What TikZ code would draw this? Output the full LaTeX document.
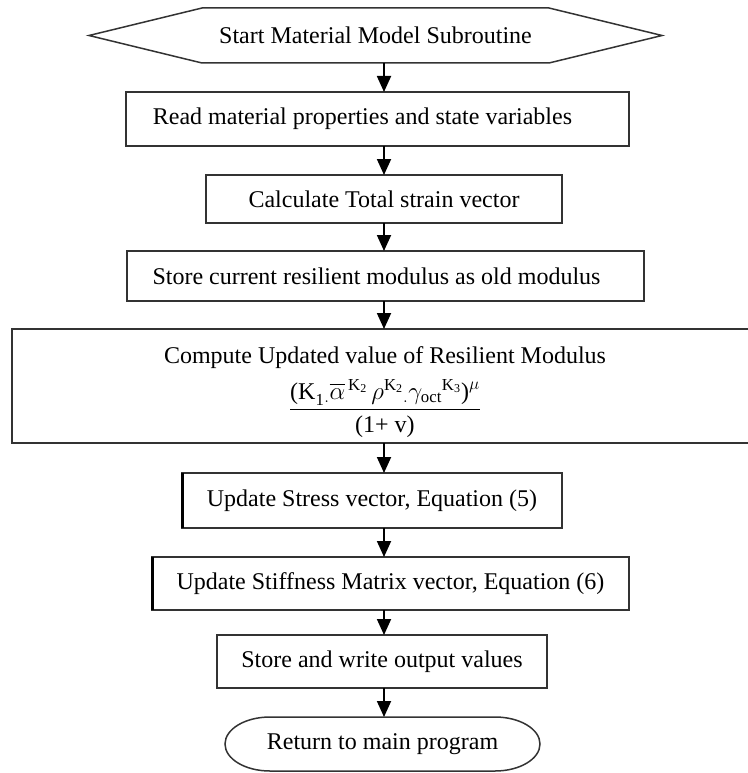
\documentclass[tikz,border=0pt]{standalone}
\usepackage{amsmath}
\usepackage{fontspec}
\setmainfont{Liberation Serif}
\usetikzlibrary{arrows.meta}

\begin{document}
\begin{tikzpicture}[x=1pt, y=-1pt, >={Triangle[length=16pt,width=14pt]},
		box/.style={draw=black!80, line width=1.5pt, inner sep=0pt, outer sep=0pt, align=center},
		flow/.style={->, line width=1.8pt},
		every node/.style={font=\fontsize{24}{29}\selectfont}]
	\useasboundingbox (0,0) rectangle (747,773);

	% --- 1. axis of the arrows ---
	\coordinate (axis) at (384,0);

	% --- 2. start (hexagon) ---
	\node[inner sep=0pt, outer sep=0pt, minimum width=347pt, minimum height=55pt] (start) at (375.5,35.5) {Start Material Model Subroutine};
	\draw[draw=black!80, line width=1.5pt] (start.north west) -- (start.north east) -- ([xshift=113pt]start.east)
		-- (start.south east) -- (start.south west) -- ([xshift=-113pt]start.west) -- cycle;

	% --- 3. process boxes ---
	\node[box, minimum width=503pt, minimum height=54pt] (read) at (377.5,119) {Read material properties and state variables\hspace*{30pt}};
	\node[box, minimum width=356pt, minimum height=48pt] (calc) at (384,199) {Calculate Total strain vector};
	\node[box, minimum width=517pt, minimum height=50pt] (store) at (385.5,276) {Store current resilient modulus as old modulus\hspace*{18pt}};
	\node[box, minimum width=746pt, minimum height=114pt] (comp) at (385,386) {\rule{0pt}{30pt}Compute Updated value of Resilient Modulus\\[9pt]
		$\dfrac{\text{(K}_{\text{1}}{}_{.}\overline{\alpha}^{\,\text{K}_{\text{2}}}\,\rho^{\text{K}_{\text{2}}}{}_{.}\gamma_{\text{oct}}{}^{\text{K}_{\text{3}}}\text{)}^{\mu}}{\text{(1+ v)}}$};
	\node[box, minimum width=380pt, minimum height=55pt] (stress) at (372,500.5) {Update Stress vector, Equation (5)};
	\node[box, minimum width=477pt, minimum height=53pt] (stiff) at (390.5,583.5) {Update Stiffness Matrix vector, Equation (6)};
	\node[box, minimum width=330pt, minimum height=53pt] (write) at (382,661.5) {Store and write output values};
	% heavier left edges
	\draw[line width=3pt] (stress.north west) -- (stress.south west);
	\draw[line width=3pt] (stiff.north west) -- (stiff.south west);

	% --- 4. end (terminal) ---
	\node[inner sep=0pt, outer sep=0pt, minimum width=315pt, minimum height=54pt] (ret) at (382.5,744) {Return to main program};
	\draw[draw=black!80, line width=1.5pt] ([xshift=45pt]ret.north west) -- ([xshift=-45pt]ret.north east)
		arc[start angle=90, end angle=-90, x radius=45pt, y radius=27pt]
		-- ([xshift=45pt]ret.south west)
		arc[start angle=270, end angle=90, x radius=45pt, y radius=27pt] -- cycle;

	% --- 5. arrows ---
	\draw[flow] (start.south -| axis) -- (read.north -| axis);
	\draw[flow] (read.south -| axis) -- (calc.north -| axis);
	\draw[flow] (calc.south -| axis) -- (store.north -| axis);
	\draw[flow] (store.south -| axis) -- (comp.north -| axis);
	\draw[flow] (comp.south -| axis) -- (stress.north -| axis);
	\draw[flow] (stress.south -| axis) -- (stiff.north -| axis);
	\draw[flow] (stiff.south -| axis) -- (write.north -| axis);
	\draw[flow] (write.south -| axis) -- (ret.north -| axis);
\end{tikzpicture}
\end{document}
